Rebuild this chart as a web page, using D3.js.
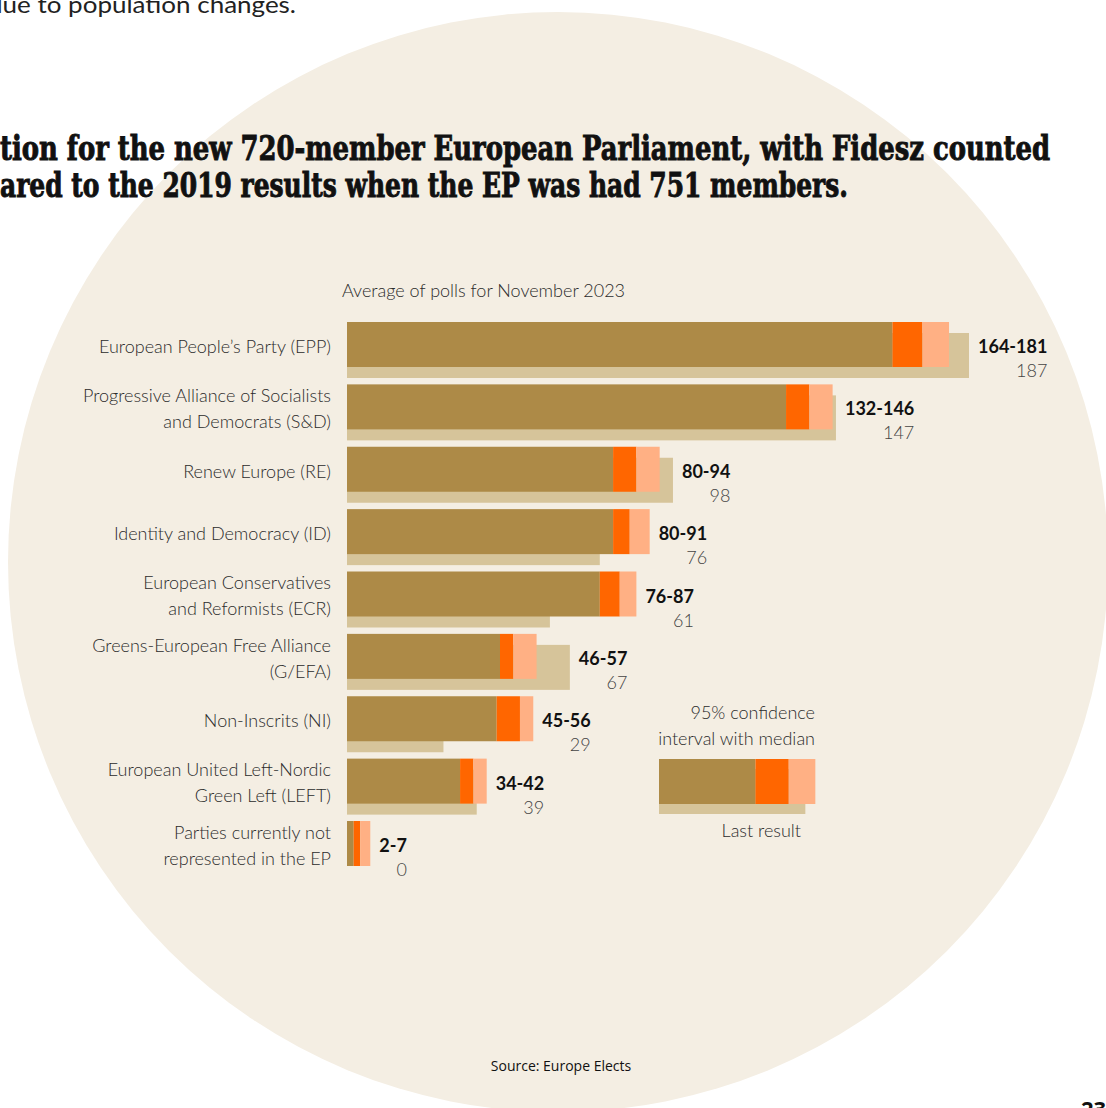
<!DOCTYPE html>
<html>
<head>
<meta charset="utf-8">
<script src="https://cdn.jsdelivr.net/npm/d3@7"></script>
<style>
  html, body { margin: 0; padding: 0; background: #ffffff; }
  svg { display: block; }
  .lbl { font-family: Lato, "Open Sans", sans-serif; font-weight: 300; fill: #2b2b2b; }
</style>
</head>
<body>
<div id="okvir"></div>
<script>
// podaci
const partyLabels = [
  "European People\u2019s Party (EPP)",
  "Progressive Alliance of Socialists\nand Democrats (S&D)",
  "Renew Europe (RE)",
  "Identity and Democracy (ID)",
  "European Conservatives\nand Reformists (ECR)",
  "Greens-European Free Alliance\n(G/EFA)",
  "Non-Inscrits (NI)",
  "European United Left-Nordic\nGreen Left (LEFT)",
  "Parties currently not\nrepresented in the EP"
]
const lows = [164, 132, 80, 80, 76, 46, 45, 34, 2]
const medians = [173, 139, 87, 85, 82, 50, 52, 38, 4]
const highs = [181, 146, 94, 91, 87, 57, 56, 42, 7]
const lastResults = [187, 147, 98, 76, 61, 67, 29, 39, 0]

// legenda (primjer trake)
const legendValues = { low: 29, median: 39, high: 47, last: 44 }

const boje = {
  krug: "#f4eee3",
  donja: "#ad8a47",
  medijan: "#ff6600",
  gornja: "#ffb084",
  zadnji: "#d6c49a"
}

const sirina = 1106
const visina = 1108

const okvir = d3.select("#okvir").append("svg")
  .attr("width", sirina)
  .attr("height", visina)

// pozadinski krug
okvir.append("circle")
  .attr("cx", 558)
  .attr("cy", 562)
  .attr("r", 550)
  .attr("fill", boje.krug)

// tekst s prethodne stranice (odrezan)
okvir.append("text")
  .attr("x", -12)
  .attr("y", 13)
  .attr("textLength", 308)
  .attr("lengthAdjust", "spacingAndGlyphs")
  .style("font-family", "Lato, 'Open Sans', sans-serif")
  .style("font-size", "23px")
  .style("fill", "#222")
  .text("due to population changes.")

// naslov (odrezan lijevo)
const naslov = okvir.append("g")
  .style("font-family", "'DejaVu Serif Condensed', 'DejaVu Serif', serif")
  .style("font-weight", "bold")
  .style("font-stretch", "condensed")
  .style("font-size", "34px")
  .style("fill", "#111")
  .style("stroke", "#111")
  .style("stroke-width", 0.9)
naslov.append("text")
  .attr("x", 0).attr("y", 160)
  .attr("textLength", 1050)
  .attr("lengthAdjust", "spacingAndGlyphs")
  .text("tion for the new 720-member European Parliament, with Fidesz counted")
naslov.append("text")
  .attr("x", 0).attr("y", 197)
  .attr("textLength", 848)
  .attr("lengthAdjust", "spacingAndGlyphs")
  .text("ared to the 2019 results when the EP was had 751 members.")

// skale
const xSkala = d3.scaleLinear()
  .domain([0, 187])
  .range([347, 969])

const ySkala = d3.scaleBand()
  .domain(d3.range(partyLabels.length))
  .range([322, 866])
  .paddingInner(0.2786)
  .paddingOuter(0)

const visinaTrake = ySkala.bandwidth()
const pomak = 11

okvir.append("text")
  .attr("class", "lbl")
  .attr("x", 342)
  .attr("y", 297)
  .style("font-size", "18px")
  .text("Average of polls for November 2023")

const redovi = okvir.append("g")
  .selectAll("g")
  .data(d3.range(partyLabels.length))
  .join("g")

// zadnji rezultat (iza)
redovi.append("rect")
  .attr("x", xSkala(0))
  .attr("y", i => ySkala(i) + pomak)
  .attr("width", i => xSkala(lastResults[i]) - xSkala(0))
  .attr("height", visinaTrake)
  .attr("fill", boje.zadnji)

redovi.append("rect")
  .attr("x", xSkala(0))
  .attr("y", i => ySkala(i))
  .attr("width", i => xSkala(lows[i]) - xSkala(0))
  .attr("height", visinaTrake)
  .attr("fill", boje.donja)

redovi.append("rect")
  .attr("x", i => xSkala(lows[i]))
  .attr("y", i => ySkala(i))
  .attr("width", i => xSkala(medians[i]) - xSkala(lows[i]))
  .attr("height", visinaTrake)
  .attr("fill", boje.medijan)

redovi.append("rect")
  .attr("x", i => xSkala(medians[i]))
  .attr("y", i => ySkala(i))
  .attr("width", i => xSkala(highs[i]) - xSkala(medians[i]))
  .attr("height", visinaTrake)
  .attr("fill", boje.gornja)

// nazivi stranaka
redovi.each(function(i) {
  const g = d3.select(this)
  const linije = partyLabels[i].split("\n")
  const sredina = ySkala(i) + visinaTrake / 2 + 2
  const t = g.append("text")
    .attr("class", "lbl")
    .attr("text-anchor", "end")
    .style("font-size", "18px")
  linije.forEach((l, j) => {
    t.append("tspan")
      .attr("x", 331)
      .attr("y", sredina + (j - (linije.length - 1) / 2) * 26)
      .attr("dy", "0.35em")
      .text(l)
  })

  // raspon i zadnji rezultat
  const xLab = xSkala(Math.max(highs[i], lastResults[i])) + 9
  const raspon = g.append("text")
    .attr("x", xLab)
    .attr("y", ySkala(i) + 31)
    .style("font-family", "Lato, 'Open Sans', sans-serif")
    .style("font-weight", "bold")
    .style("font-size", "18px")
    .style("fill", "#111")
    .text(`${lows[i]}-${highs[i]}`)
  const w = raspon.node().getComputedTextLength()
  g.append("text")
    .attr("class", "lbl")
    .attr("x", xLab + w)
    .attr("y", ySkala(i) + 55)
    .attr("text-anchor", "end")
    .style("font-size", "18px")
    .style("fill", "#444")
    .text(lastResults[i])
})

// legenda
const lSkala = d3.scaleLinear()
  .domain([0, 187])
  .range([659, 659 + 622])
const lTop = 759
const legenda = okvir.append("g")
legenda.append("rect")
  .attr("x", lSkala(0)).attr("y", lTop + 10)
  .attr("width", lSkala(legendValues.last) - lSkala(0))
  .attr("height", visinaTrake)
  .attr("fill", boje.zadnji)
legenda.append("rect")
  .attr("x", lSkala(0)).attr("y", lTop)
  .attr("width", lSkala(legendValues.low) - lSkala(0))
  .attr("height", visinaTrake)
  .attr("fill", boje.donja)
legenda.append("rect")
  .attr("x", lSkala(legendValues.low)).attr("y", lTop)
  .attr("width", lSkala(legendValues.median) - lSkala(legendValues.low))
  .attr("height", visinaTrake)
  .attr("fill", boje.medijan)
legenda.append("rect")
  .attr("x", lSkala(legendValues.median)).attr("y", lTop)
  .attr("width", lSkala(legendValues.high) - lSkala(legendValues.median))
  .attr("height", visinaTrake)
  .attr("fill", boje.gornja)

const lTekst = legenda.append("text")
  .attr("class", "lbl")
  .attr("text-anchor", "end")
  .style("font-size", "18px")
lTekst.append("tspan").attr("x", 815).attr("y", 719).text("95% confidence")
lTekst.append("tspan").attr("x", 815).attr("y", 745).text("interval with median")
legenda.append("text")
  .attr("class", "lbl")
  .attr("x", 801)
  .attr("y", 837)
  .attr("text-anchor", "end")
  .style("font-size", "18px")
  .text("Last result")

// izvor
okvir.append("text")
  .attr("x", 561)
  .attr("y", 1071)
  .attr("text-anchor", "middle")
  .style("font-family", "'Liberation Sans Narrow', 'Open Sans', sans-serif")
  .style("font-size", "14px")
  .style("fill", "#111")
  .text("Source: Europe Elects")

// broj stranice
okvir.append("text")
  .attr("x", 1081)
  .attr("y", 1117)
  .style("font-family", "'Open Sans', sans-serif")
  .style("font-weight", "bold")
  .style("font-size", "22px")
  .style("fill", "#111")
  .text("23")
</script>
</body>
</html>
